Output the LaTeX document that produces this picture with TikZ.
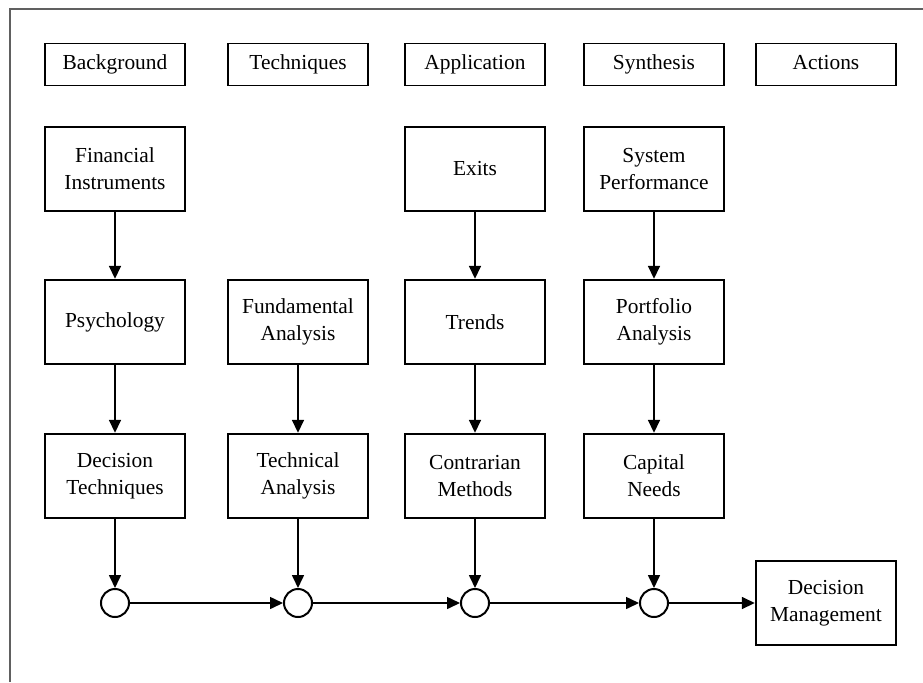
\documentclass[tikz,border=0pt]{standalone}
\usepackage{fontspec}
\setmainfont{Liberation Serif}
\usetikzlibrary{positioning}
\usetikzlibrary{arrows.meta}

\begin{document}
\begin{tikzpicture}[x=0.5pt, y=-0.5pt,
    box/.style={draw, line width=1.2pt, minimum width=70pt, minimum height=42pt, align=center, inner sep=0pt, font=\fontsize{10.7}{13.6}\selectfont},
    head/.style={draw, line width=0.8pt, minimum width=70pt, minimum height=21pt, inner sep=0pt, text height=1.6ex, text depth=0.45ex, font=\fontsize{10.7}{13.6}\selectfont},
    hub/.style={draw, circle, line width=1pt, minimum size=14pt, inner sep=0pt},
    flow/.style={line width=0.8pt, -{Triangle[length=6.5pt,width=6pt]}}]
    \useasboundingbox (0,0) rectangle (923,682);

    % outer frame
    \draw[gray!75!black, line width=0.6pt] (10,682) -- (10,9) -- (923,9);

    % column headers
    \node[head] (background) at (115,64.5) {Background};
    \node[head] (techniques) at (298,64.5) {Techniques};
    \node[head] (application) at (475,64.5) {Application};
    \node[head] (synthesis) at (654,64.5) {Synthesis};
    \node[head] (actions) at (826,64.5) {Actions};

    % first row
    \node[box] (instruments) at (115,169) {Financial\\Instruments};
    \node[box] (exits) at (475,169) {Exits};
    \node[box] (performance) at (654,169) {System\\Performance};

    % second row
    \node[box] (psychology) at (115,322) {Psychology};
    \node[box] (fundamental) at (298,322) {Fundamental\\Analysis};
    \node[box] (trends) at (475,322) {Trends};
    \node[box] (portfolio) at (654,322) {Portfolio\\Analysis};

    % third row
    \node[box] (decision) at (115,476) {Decision\\Techniques};
    \node[box] (technical) at (298,476) {Technical\\Analysis};
    \node[box] (contrarian) at (475,476) {Contrarian\\Methods};
    \node[box] (capital) at (654,476) {Capital\\Needs};

    % junctions and result
    \node[hub] (h1) at (115,603) {};
    \node[hub] (h2) at (298,603) {};
    \node[hub] (h3) at (475,603) {};
    \node[hub] (h4) at (654,603) {};
    \node[box] (management) at (826,603) {Decision\\Management};

    % draw arrows
    \foreach \a/\b in {instruments/psychology, psychology/decision,
        fundamental/technical, exits/trends, trends/contrarian,
        performance/portfolio, portfolio/capital,
        decision/h1, technical/h2, contrarian/h3, capital/h4,
        h1/h2, h2/h3, h3/h4, h4/management}
      \draw[flow] (\a) -- (\b);
\end{tikzpicture}
\end{document}
